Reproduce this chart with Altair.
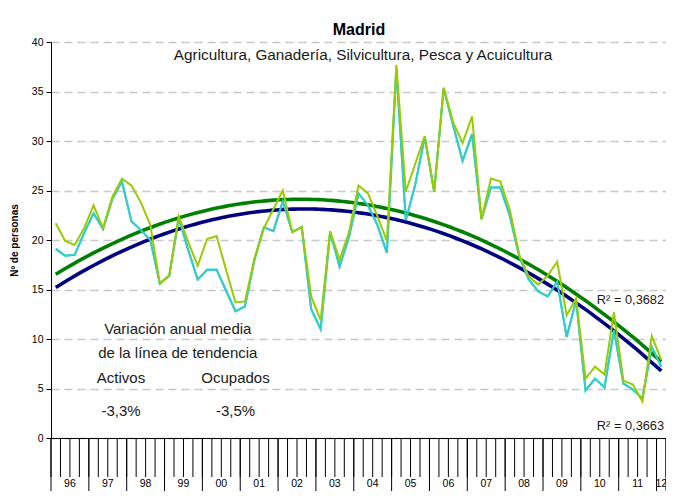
import altair as alt
import pandas as pd

# ---------------- data ----------------
years = ["96", "97", "98", "99", "00", "01", "02", "03", "04", "05",
         "06", "07", "08", "09", "10", "11", "12"]
quarters_per_year = [4] * 16 + [1]

activos = [21.7, 19.9, 19.5, 21.2, 23.5, 21.2, 24.4, 26.2,
           25.5, 23.8, 21.5, 15.6, 16.4, 22.4, 19.8, 17.4,
           20.1, 20.4, 17.0, 13.7, 13.8, 18.1, 21.2, 23.1,
           25.0, 20.8, 21.3, 14.3, 11.9, 20.9, 18.0, 20.8,
           25.5, 24.7, 22.4, 19.9, 37.7, 24.9, 27.7, 30.5,
           24.9, 35.4, 31.9, 29.8, 32.5, 22.1, 26.2, 25.9,
           23.0, 18.5, 16.3, 15.5, 16.4, 17.8, 12.4, 14.1,
           6.0, 7.2, 6.4, 12.7, 5.8, 5.4, 3.7, 10.3, 7.9]

ocupados = [19.1, 18.4, 18.5, 20.7, 22.7, 21.1, 24.2, 25.9,
            21.9, 21.0, 20.0, 15.6, 16.4, 22.2, 19.0, 16.0,
            17.0, 17.0, 14.9, 12.8, 13.3, 18.0, 21.3, 20.9,
            23.9, 20.8, 21.3, 13.0, 11.0, 20.8, 17.3, 20.3,
            24.7, 23.5, 21.5, 18.7, 37.3, 22.0, 25.6, 30.4,
            24.9, 35.3, 31.6, 28.0, 30.7, 22.1, 25.3, 25.3,
            22.4, 18.3, 16.0, 14.8, 14.3, 15.8, 10.2, 13.9,
            4.8, 6.0, 5.1, 10.9, 5.5, 4.9, 4.0, 9.2, 7.2]

title_text = "Madrid"
subtitle_text = "Agricultura, Ganadería, Silvicultura, Pesca y Acuicultura"
y_title = "Nº de personas"
y_ticks = [0, 5, 10, 15, 20, 25, 30, 35, 40]

# annotations (text, x in quarter index units, y in value units)
notes = ["Variación anual media", "de la línea de tendencia",
         "Activos", "Ocupados", "-3,3%", "-3,5%"]
notes_x = [12.9, 12.9, 6.9, 19.0, 6.9, 19.0]
notes_y = [11.0, 8.6, 6.05, 6.05, 2.7, 2.7]
r2_text = ["R² = 0,3682", "R² = 0,3663"]
r2_x = [64.3, 64.3]
r2_y = [13.9, 1.25]

# ---------------- frames ----------------
n = len(activos)
df = pd.DataFrame({
    "i": list(range(n)) * 2,
    "serie": ["Activos"] * n + ["Ocupados"] * n,
    "v": activos + ocupados,
})

starts = []
s = 0
for q in quarters_per_year:
    starts.append(s)
    s += q
quarter_bounds = pd.DataFrame({"b": [k - 0.5 for k in range(n + 1)]})
year_bounds = pd.DataFrame({"b": [st - 0.5 for st in starts] + [n - 0.5]})
year_labels = pd.DataFrame({
    "label": years,
    "c": [st + q / 2 - 0.5 for st, q in zip(starts, quarters_per_year)],
})
notes_df = pd.DataFrame({"t": notes, "x": notes_x, "y": notes_y})
r2_df = pd.DataFrame({"t": r2_text, "x": r2_x, "y": r2_y})

# ---------------- styling ----------------
W, H = 615, 396
FONT = "Liberation Sans, Arial, sans-serif"
TXT = "#1a1a1a"
xs = alt.Scale(domain=[-0.5, n - 0.5], nice=False, zero=False)
ys = alt.Scale(domain=[0, 40], nice=False)

C_ACT, C_OCU = "#99CC00", "#33CCCC"
T_ACT, T_OCU = "#008000", "#000080"

ocu_line = alt.Chart(df).transform_filter(alt.datum.serie == "Ocupados").mark_line(
    color=C_OCU, strokeWidth=2
).encode(
    x=alt.X("i:Q", scale=xs,
            axis=alt.Axis(labels=False, ticks=False, grid=False, title=None,
                          domainColor="black", domainWidth=1)),
    y=alt.Y("v:Q", scale=ys,
            axis=alt.Axis(values=y_ticks, title=y_title, grid=True,
                          gridColor="#c8c8c8", gridDash=[8, 5], gridWidth=1.3,
                          domainColor="black", tickColor="black", tickSize=5,
                          labelFont=FONT, labelFontSize=10.5, labelColor="black",
                          labelPadding=3,
                          titleFont=FONT, titleFontSize=10,
                          titleFontWeight="bold", titleColor="black",
                          titlePadding=12)),
)

act_line = alt.Chart(df).transform_filter(alt.datum.serie == "Activos").mark_line(
    color=C_ACT, strokeWidth=2
).encode(x=alt.X("i:Q", scale=xs), y=alt.Y("v:Q", scale=ys))


def trend(serie, color):
    return alt.Chart(df).transform_filter(alt.datum.serie == serie).transform_regression(
        "i", "v", method="poly", order=2
    ).mark_line(color=color, strokeWidth=3.6).encode(
        x=alt.X("i:Q", scale=xs), y=alt.Y("v:Q", scale=ys)
    )


trend_act = trend("Activos", T_ACT)
trend_ocu = trend("Ocupados", T_OCU)

q_ticks = alt.Chart(quarter_bounds).mark_rule(color="black", strokeWidth=1).encode(
    x=alt.X("b:Q", scale=xs), y=alt.value(H), y2=alt.value(H + 39)
)
y_seps = alt.Chart(year_bounds).mark_rule(color="black", strokeWidth=1).encode(
    x=alt.X("b:Q", scale=xs), y=alt.value(H), y2=alt.value(H + 53)
)
y_text = alt.Chart(year_labels).mark_text(
    font=FONT, fontSize=10.5, color="black", baseline="middle"
).encode(x=alt.X("c:Q", scale=xs), y=alt.value(H + 46), text="label:N")

notes_text = alt.Chart(notes_df).mark_text(
    font=FONT, fontSize=15, color=TXT, baseline="middle", align="center"
).encode(x=alt.X("x:Q", scale=xs), y=alt.Y("y:Q", scale=ys), text="t:N")

r2_marks = alt.Chart(r2_df).mark_text(
    font=FONT, fontSize=12.8, color=TXT, baseline="middle", align="right"
).encode(x=alt.X("x:Q", scale=xs), y=alt.Y("y:Q", scale=ys), text="t:N")

title_df = pd.DataFrame({"t": [title_text]})
sub_df = pd.DataFrame({"t": [subtitle_text]})
title_mark = alt.Chart(title_df).mark_text(
    font=FONT, fontSize=16, fontWeight="bold", color="black",
    baseline="middle", align="center"
).encode(x=alt.value(308), y=alt.value(-12), text="t:N")
sub_mark = alt.Chart(sub_df).mark_text(
    font=FONT, fontSize=15.3, color=TXT, baseline="middle", align="center"
).encode(x=alt.value(312), y=alt.value(13), text="t:N")

chart = alt.layer(
    ocu_line, trend_act, trend_ocu, ocu_line, act_line,
    q_ticks, y_seps, y_text, notes_text, r2_marks, title_mark, sub_mark
).properties(
    width=W, height=H,
    autosize=alt.AutoSizeParams(type="none"),
    padding={"left": 43, "top": 34, "right": 0, "bottom": 53},
    background="white",
).configure_view(stroke=None)

chart.save("out.html", embed_options={"renderer": "svg", "actions": False})
